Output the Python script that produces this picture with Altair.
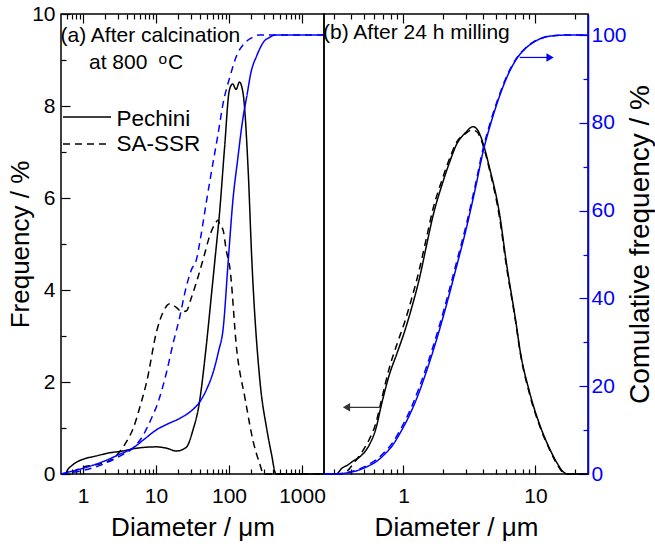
import altair as alt
import pandas as pd

# ---------------- data ----------------
series = ["Pechini", "SA-SSR"]

# panel (a): after calcination at 800 C
a_pech_d = [0.5, 0.57, 0.62, 0.7, 0.82, 1.0, 1.5, 2.3, 3.5, 4.9, 7.0, 10, 14, 19, 26, 32, 38.8,
            48.4, 58, 66, 73.5, 87, 101, 112, 125, 139, 156, 183, 205, 266, 328, 380, 440, 2000]
a_pech_f = [0, 0, 0.1, 0.18, 0.26, 0.32, 0.39, 0.46, 0.5, 0.55, 0.58, 0.59, 0.56, 0.5, 0.58, 0.95, 1.5,
            2.73, 3.96, 4.85, 5.6, 7.1, 8.34, 8.48, 8.36, 8.52, 8.27, 6.6, 4.68, 2.0, 0.99, 0.45, 0, 0]

a_ssr_d = [0.5, 0.65, 0.72, 0.85, 1.0, 1.5, 2.1, 2.7, 3.2, 4.0, 4.9, 6.0, 7.45, 10.2, 12.6, 15.5, 19,
           22.5, 26.3, 30, 36, 44.5, 55, 65, 71, 76, 82, 92, 103, 127, 166, 215, 260, 300, 2000]
a_ssr_f = [0, 0, 0.05, 0.1, 0.15, 0.2, 0.26, 0.36, 0.49, 0.72, 1.0, 1.45, 2.0, 3.1, 3.53, 3.7, 3.62,
           3.53, 3.55, 3.8, 4.18, 4.68, 5.2, 5.45, 5.52, 5.38, 5.33, 4.85, 4.47, 2.73, 1.64, 0.7, 0.25, 0, 0]

a_pech_cd = [0.5, 0.55, 0.7, 1.0, 2.0, 3.0, 4.9, 7, 10, 14, 21.3, 30, 40, 50, 61, 72, 83, 98, 114,
             130, 155, 175, 200, 240, 300, 364, 420, 2000]
a_pech_c = [0, 0.2, 0.6, 1.3, 3.0, 4.3, 6.0, 8.0, 10, 11.3, 12.7, 14.3, 16.5, 19.5, 23.3, 28, 33, 49, 63,
            71, 81, 86, 91.5, 95.3, 98.5, 99.5, 100, 100]

a_ssr_cd = [0.5, 0.6, 1.0, 2.0, 3.3, 4.9, 6.5, 8.3, 11, 14, 17, 21.3, 25, 30.5, 36, 40, 49, 55, 70,
            83.6, 103, 127, 160, 200, 260, 2000]
a_ssr_c = [0, 0.2, 0.8, 2.4, 4.2, 6.0, 8.5, 12, 17, 23.3, 29.5, 36, 41.5, 46.5, 49, 53, 62, 67, 77,
           84.7, 90.5, 95.3, 98, 99.3, 100, 100]

# panel (b): after 24 h milling
b_pech_d = [0.25, 0.31, 0.34, 0.38, 0.41, 0.47, 0.55, 0.62, 0.68, 0.78, 0.9, 1.02, 1.15, 1.32, 1.49,
            1.67, 1.99, 2.25, 2.51, 2.95, 3.36, 3.6, 3.89, 4.5, 5.36, 6.0, 7.17, 7.6, 9.0, 10.8, 12.8,
            14.5, 16.2, 17.5, 25]
b_pech_f = [0, 0, 0.12, 0.2, 0.27, 0.38, 0.63, 1.0, 1.5, 2.15, 2.65, 3.1, 3.6, 4.25, 4.95,
            5.6, 6.35, 6.8, 7.15, 7.42, 7.55, 7.5, 7.3, 6.64, 5.63, 4.62, 3.23, 2.73, 1.79, 1.06, 0.55,
            0.25, 0.05, 0, 0]

b_ssr_d = [0.25, 0.33, 0.38, 0.41, 0.47, 0.55, 0.62, 0.68, 0.78, 0.9, 1.02, 1.15, 1.32, 1.49, 1.67,
           1.99, 2.25, 2.51, 2.95, 3.3, 3.6, 3.89, 4.5, 5.36, 6.0, 7.17, 7.6, 9.0, 10.8, 12.8, 14.5,
           16.2, 17.5, 25]
b_ssr_f = [0, 0, 0.08, 0.2, 0.42, 0.75, 1.12, 1.6, 2.3, 2.85, 3.3, 3.8, 4.45, 5.12, 5.75,
           6.45, 6.88, 7.2, 7.4, 7.48, 7.44, 7.25, 6.6, 5.55, 4.55, 3.2, 2.7, 1.75, 1.03, 0.53, 0.22,
           0.03, 0, 0]

b_cd = [0.25, 0.31, 0.38, 0.46, 0.54, 0.62, 0.72, 0.83, 0.95, 1.11, 1.29, 1.49, 1.88, 2.25, 2.51,
        2.99, 3.5, 4.0, 4.6, 5.36, 6.2, 7.17, 8.3, 9.6, 11.4, 14.3, 17, 25]
b_pech_c = [0, 0, 0.3, 0.9, 1.8, 2.8, 4.5, 6.6, 9.5, 13.4, 18, 23.3, 33, 41.5, 47,
            55.9, 65, 73.3, 80, 86.2, 91, 94.5, 96.8, 98.3, 99.4, 99.9, 100, 100]
b_ssr_c = [0, 0, 0.4, 1.1, 2.1, 3.2, 5.0, 7.2, 10.2, 14.2, 19, 24.3, 34, 42.5, 48,
           56.8, 65.8, 74, 80.6, 86.6, 91.3, 94.7, 96.9, 98.4, 99.4, 99.9, 100, 100]

# arrows (data coordinates)
arrow_left_d = [0.37, 0.66]
arrow_left_f = [1.45, 1.45]
arrow_right_d = [7.6, 12.9]
arrow_right_c = [94.9, 94.9]

# axis ticks / labels
a_major = [1, 10, 100, 1000]
a_minor = [0.6, 0.7, 0.8, 0.9, 2, 3, 4, 5, 6, 7, 8, 9, 20, 30, 40, 50, 60, 70, 80, 90,
           200, 300, 400, 500, 600, 700, 800, 900]
b_major = [1, 10]
b_minor = [0.3, 0.4, 0.5, 0.6, 0.7, 0.8, 0.9, 2, 3, 4, 5, 6, 7, 8, 9, 20]
f_major = [0, 2, 4, 6, 8, 10]
f_minor = [1, 3, 5, 7, 9]
c_major = [0, 20, 40, 60, 80, 100]
c_minor = [10, 30, 50, 70, 90]

title_a = "(a) After calcination"
title_a2 = ["at 800 ", "o", "C"]
title_b = "(b) After 24 h milling"
x_title = "Diameter / \u03bcm"
y_title = "Frequency / %"
y2_title = "Comulative frequency / %"

# ---------------- styling ----------------
FONT = "Liberation Sans"
BLUE = "#0000ff"
BLACK = "black"
W_A, W_B, H = 263, 264, 460

xA = alt.Scale(type="log", domain=[0.5, 2000], nice=False)
xB = alt.Scale(type="log", domain=[0.25, 25], nice=False)
yF = alt.Scale(domain=[0, 10], nice=False, zero=False)
yC = alt.Scale(domain=[0, 104.8], nice=False, zero=False)


def long(d, v, name):
    return pd.DataFrame({"d": d, "v": v, "s": name})


freqA = pd.concat([long(a_pech_d, a_pech_f, series[0]), long(a_ssr_d, a_ssr_f, series[1])])
cumA = pd.concat([long(a_pech_cd, a_pech_c, series[0]), long(a_ssr_cd, a_ssr_c, series[1])])
freqB = pd.concat([long(b_pech_d, b_pech_f, series[0]), long(b_ssr_d, b_ssr_f, series[1])])
cumB = pd.concat([long(b_cd, b_pech_c, series[0]), long(b_cd, b_ssr_c, series[1])])


def tick_axis(orient, values, size, color=BLACK):
    return alt.Axis(orient=orient, values=values, labels=False, domain=False, ticks=True,
                    tickSize=size, offset=-size, tickColor=color, tickWidth=1.2,
                    title=None, grid=False)


def tick_layer(df, xscale, yscale, xaxis, yaxis):
    return alt.Chart(df).mark_line(opacity=0).encode(
        x=alt.X("d:Q", scale=xscale, axis=xaxis),
        y=alt.Y("v:Q", scale=yscale, axis=yaxis),
        detail="s:N",
    )


def lines(df, xscale, yscale, color, dash, xaxis, yaxis):
    return alt.Chart(df).mark_line(color=color, strokeWidth=1.5, interpolate="monotone").encode(
        x=alt.X("d:Q", scale=xscale, axis=xaxis),
        y=alt.Y("v:Q", scale=yscale, axis=yaxis),
        strokeDash=alt.StrokeDash("s:N", scale=alt.Scale(domain=series, range=[[1, 0], dash]),
                                  legend=None),
    )


def text(label, x, y, size=21, color=BLACK):
    return alt.Chart(pd.DataFrame({"t": [label]})).mark_text(
        align="left", baseline="alphabetic", font=FONT, fontSize=size, color=color
    ).encode(x=alt.value(x), y=alt.value(y), text="t:N")


x_lab_A = alt.Axis(orient="bottom", values=a_major, format=".0f", ticks=False, domain=False,
                   labelFontSize=21, labelPadding=11, labelFlush=False, title=x_title,
                   titleFontSize=26, titlePadding=8)
y_lab = alt.Axis(orient="left", values=f_major, format="d", ticks=False, domain=False,
                 labelFontSize=21, labelPadding=6, title=y_title, titleFontSize=26, titlePadding=-2)

panelA = alt.layer(
    lines(freqA, xA, yF, BLACK, [7, 5], x_lab_A, y_lab),
    tick_layer(freqA, xA, yF, tick_axis("bottom", a_major, 9), tick_axis("left", f_major, 9)),
    tick_layer(freqA, xA, yF, tick_axis("bottom", a_minor, 5), tick_axis("left", f_minor, 5)),
    tick_layer(freqA, xA, yF, tick_axis("top", a_major, 9), None),
    tick_layer(freqA, xA, yF, tick_axis("top", a_minor, 5), None),
    lines(cumA, xA, yC, BLUE, [9, 5], None, None),
    alt.Chart(pd.DataFrame({"k": [0]})).mark_rule(color=BLACK, strokeWidth=1.5).encode(
        x=alt.value(2), x2=alt.value(50), y=alt.value(103)),
    alt.Chart(pd.DataFrame({"k": [0]})).mark_rule(color=BLACK, strokeWidth=1.5,
                                                  strokeDash=[7, 5]).encode(
        x=alt.value(2), x2=alt.value(50), y=alt.value(130)),
    text(series[0], 55.5, 111.5, size=22.5),
    text(series[1], 55.5, 137, size=22.5),
    text(title_a, -0.5, 28),
    text(title_a2[0], 28, 55),
    text(title_a2[1], 97.5, 50, size=15.5),
    text(title_a2[2], 107, 55),
).properties(width=W_A, height=H).resolve_scale(y="independent").resolve_axis(
    x="independent", y="independent")

x_lab_B = alt.Axis(orient="bottom", values=b_major, format=".0f", ticks=False, domain=False,
                   labelFontSize=21, labelPadding=11, labelFlush=False, title=x_title,
                   titleFontSize=26, titlePadding=8)
y2_lab = alt.Axis(orient="right", values=c_major, format="d", ticks=False, domain=True,
                  domainColor=BLUE, domainWidth=1.5, labelColor=BLUE, labelFontSize=21,
                  labelPadding=3, title=y2_title, titleFontSize=28, titleAngle=270,
                  titleBaseline="top", titlePadding=0)

panelB = alt.layer(
    lines(freqB, xB, yF, BLACK, [7, 5], x_lab_B, None),
    tick_layer(freqB, xB, yF, tick_axis("bottom", b_major, 9), None),
    tick_layer(freqB, xB, yF, tick_axis("bottom", b_minor, 5), None),
    tick_layer(freqB, xB, yF, tick_axis("top", b_major, 9), None),
    tick_layer(freqB, xB, yF, tick_axis("top", b_minor, 5), None),
    lines(cumB, xB, yC, BLUE, [9, 5], None, y2_lab),
    tick_layer(cumB, xB, yC, None, tick_axis("right", c_major, 9, BLUE)),
    tick_layer(cumB, xB, yC, None, tick_axis("right", c_minor, 5, BLUE)),
    alt.Chart(pd.DataFrame({"d": arrow_left_d, "v": arrow_left_f})).mark_line(
        color="#333333", strokeWidth=1.2).encode(
        x=alt.X("d:Q", scale=xB, axis=None), y=alt.Y("v:Q", scale=yF, axis=None)),
    alt.Chart(pd.DataFrame({"d": arrow_left_d[:1], "v": arrow_left_f[:1]})).mark_point(
        shape="triangle-left", filled=True, size=70, color="#333333", opacity=1).encode(
        x=alt.X("d:Q", scale=xB, axis=None), y=alt.Y("v:Q", scale=yF, axis=None)),
    alt.Chart(pd.DataFrame({"d": arrow_right_d, "v": arrow_right_c})).mark_line(
        color=BLUE, strokeWidth=1.2).encode(
        x=alt.X("d:Q", scale=xB, axis=None), y=alt.Y("v:Q", scale=yC, axis=None)),
    alt.Chart(pd.DataFrame({"d": arrow_right_d[1:], "v": arrow_right_c[1:]})).mark_point(
        shape="triangle-right", filled=True, size=70, color=BLUE, opacity=1).encode(
        x=alt.X("d:Q", scale=xB, axis=None), y=alt.Y("v:Q", scale=yC, axis=None)),
    text(title_b, -1, 25),
).properties(width=W_B, height=H).resolve_scale(y="independent").resolve_axis(
    x="independent", y="independent")

chart = alt.hconcat(panelA, panelB, spacing=0).properties(
    bounds="flush",
    padding={"left": 6, "top": 2, "right": 0, "bottom": 2},
).configure_view(stroke=BLACK, strokeWidth=1.5).configure_axis(
    labelFont=FONT, titleFont=FONT, labelColor=BLACK, titleColor=BLACK,
    titleFontWeight="normal", grid=False
).configure_concat(spacing=0)

chart.save("out.html", embed_options={"renderer": "svg", "actions": False})
